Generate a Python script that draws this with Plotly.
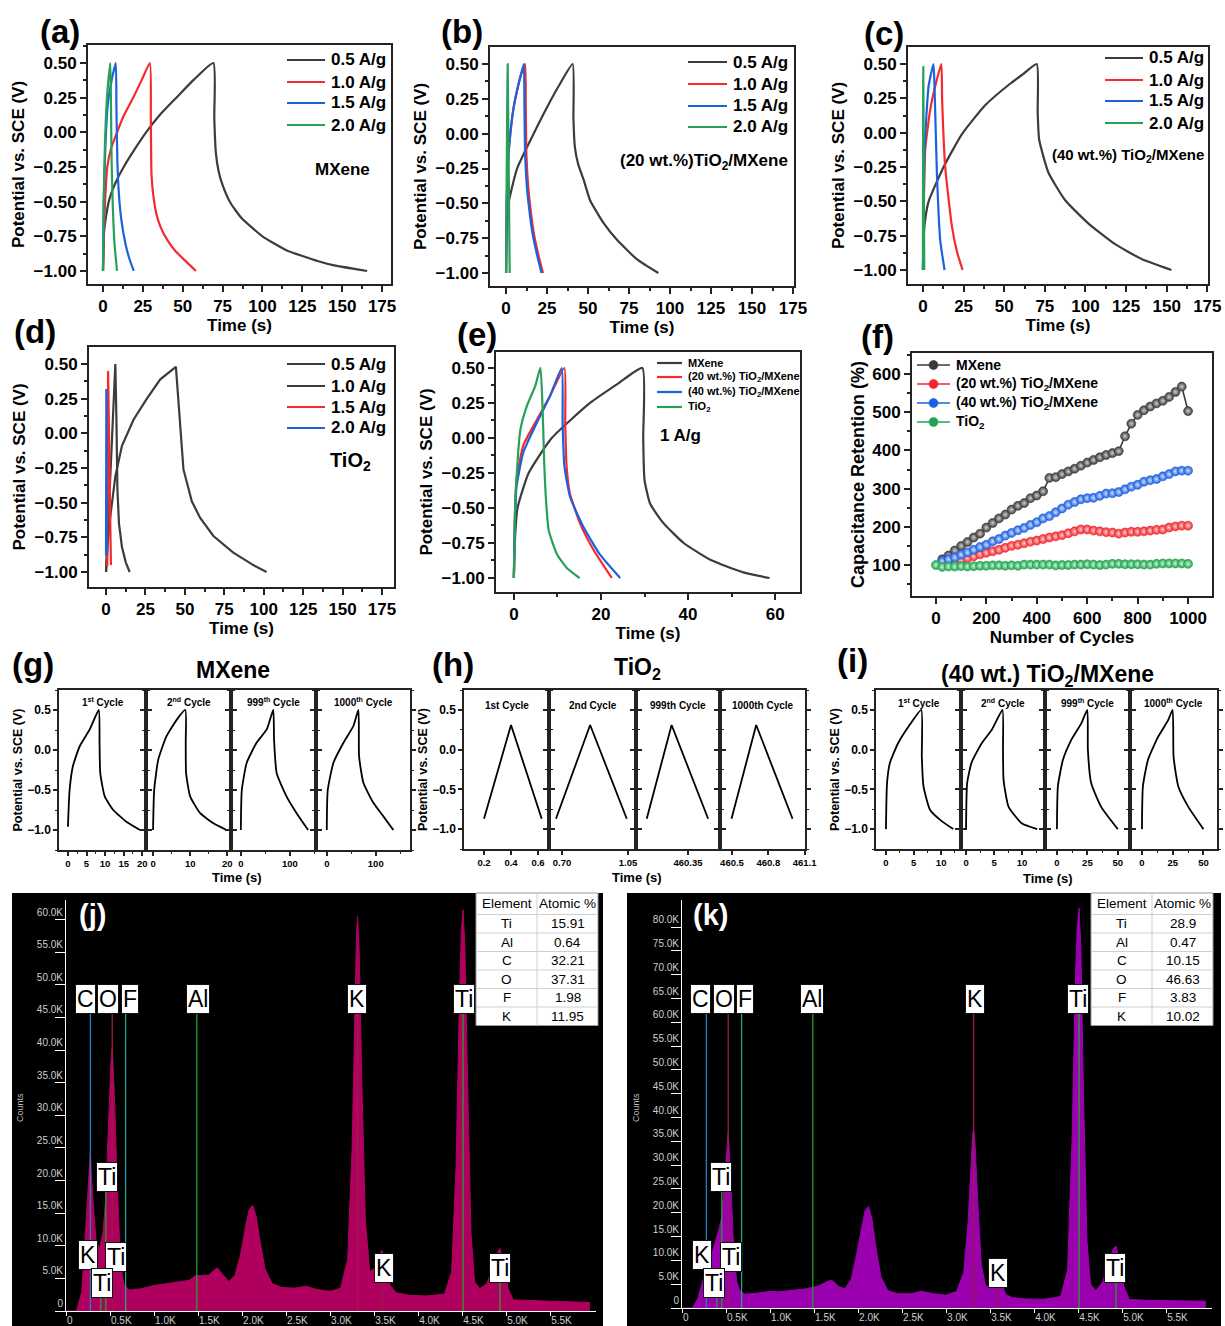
import plotly.graph_objects as go

W, H = 1225, 1326
FONT = "Liberation Sans"
INK = "#232323"
GRAY, RED, BLUE, GREEN = "#3c3c3c", "#f42a2d", "#1c62dc", "#26a157"

RATES = ["0.5 A/g", "1.0 A/g", "1.5 A/g", "2.0 A/g"]

# (a) MXene - GCD at four current densities, time (s) / potential (V vs SCE)
A_T = [
    [0, 0.8, 3.6, 8, 13, 20, 27, 36, 46, 57, 69.2, 69.8, 70.8, 72.5, 75, 80, 87, 100, 115, 135, 145, 165.6],
    [0, 0.5, 1.3, 2.7, 5, 8.8, 13, 18.9, 24, 29.4, 30.0, 30.4, 31.5, 33.5, 36, 40, 45, 51, 58.3],
    [0, 0.5, 1.5, 3, 5.5, 8.0, 8.4, 9.0, 10, 11.5, 14, 16.5, 19.3],
    [0, 0.4, 1.2, 2.5, 4.6, 5.0, 5.4, 6.2, 7.2, 8.8],
]
A_V = [
    [-1.0, -0.7, -0.5, -0.36, -0.25, -0.12, 0.0, 0.13, 0.25, 0.38, 0.5, 0.1, -0.15, -0.28, -0.38, -0.51, -0.62, -0.75, -0.85, -0.93, -0.96, -1.0],
    [-1.0, -0.75, -0.5, -0.25, -0.12, 0.0, 0.12, 0.25, 0.37, 0.5, 0.1, -0.3, -0.45, -0.59, -0.68, -0.77, -0.85, -0.92, -1.0],
    [-1.0, -0.5, -0.1, 0.2, 0.38, 0.5, 0.2, -0.2, -0.45, -0.63, -0.8, -0.91, -1.0],
    [-1.0, -0.5, -0.1, 0.25, 0.5, 0.2, -0.2, -0.55, -0.8, -1.0],
]

# (b) (20 wt.%) TiO2/MXene
B_T = [
    [0, 0.3, 1.5, 6.7, 16.8, 25, 33, 40.6, 41.1, 42, 44, 47.3, 51.3, 59.4, 67.5, 79.7, 92.9],
    [0, 0.4, 1.5, 2.6, 4.5, 6.7, 9, 11.6, 12.0, 12.4, 13.5, 15, 17, 19.5, 22.5],
    [0, 0.4, 1.5, 2.6, 4.5, 6.7, 9, 10.8, 11.2, 11.6, 12.7, 14.2, 16.2, 18.7, 21.6],
    [0, 1.0, 2.2],
]
B_V = [
    [-1.0, -0.7, -0.5, -0.25, 0.0, 0.19, 0.36, 0.5, 0.1, -0.1, -0.22, -0.33, -0.48, -0.64, -0.76, -0.9, -1.0],
    [-1.0, -0.5, -0.15, 0.0, 0.18, 0.31, 0.42, 0.5, 0.2, -0.15, -0.38, -0.55, -0.72, -0.86, -1.0],
    [-1.0, -0.5, -0.15, 0.0, 0.18, 0.31, 0.42, 0.5, 0.2, -0.15, -0.38, -0.55, -0.72, -0.86, -1.0],
    [-1.0, 0.5, -1.0],
]

# (c) (40 wt.%) TiO2/MXene
C_T = [
    [0, 0.3, 1.2, 3.5, 12.7, 24, 38.3, 54, 62, 70, 70.6, 71.5, 77.2, 87.4, 101.7, 118, 134.5, 152.9],
    [0, 0.6, 1.4, 4.5, 8, 11.3, 11.8, 13.7, 17.8, 21, 24.4],
    [0, 0.5, 1.0, 3.5, 6.5, 7.2, 8.6, 10.6, 13.3],
    [0, 0.2, 0.8],
]
C_V = [
    [-1.0, -0.8, -0.65, -0.5, -0.25, -0.01, 0.2, 0.36, 0.43, 0.5, 0.15, -0.05, -0.29, -0.49, -0.66, -0.81, -0.92, -1.0],
    [-1.0, -0.5, -0.12, 0.17, 0.36, 0.5, 0.24, -0.25, -0.68, -0.87, -1.0],
    [-1.0, -0.5, -0.12, 0.34, 0.5, 0.3, -0.3, -0.78, -1.0],
    [-1.0, 0.48, -1.0],
]

# (d) TiO2
D_T = [
    [0, 1, 2.7, 5.9, 10.1, 17.5, 25.9, 34.4, 44.3, 49.1, 54.4, 59.7, 68.1, 80.7, 93.4, 101.8],
    [0, 1.5, 2.7, 4.0, 5.9, 6.6, 7.2, 8.2, 10.1, 12.5, 15],
    [0.8, 1.3, 3.1],
    [0, 0.2, 0.5],
]
D_V = [
    [-1.0, -0.8, -0.6, -0.31, -0.09, 0.1, 0.25, 0.39, 0.48, -0.26, -0.49, -0.61, -0.74, -0.86, -0.95, -1.0],
    [-1.0, -0.6, -0.3, 0.1, 0.5, 0.1, -0.4, -0.65, -0.82, -0.93, -1.0],
    [-0.96, 0.45, -0.95],
    [-0.88, 0.32, -0.88],
]

# (e) all four electrodes at 1 A/g
E_NAMES = ["MXene", "(20 wt.%) TiO<sub>2</sub>/MXene", "(40 wt.%) TiO<sub>2</sub>/MXene", "TiO<sub>2</sub>"]
E_T = [
    [0, 0.2, 0.84, 3.4, 8.7, 17.5, 24, 29.5, 29.7, 30.0, 31.3, 34.4, 39, 45.1, 52.7, 58.7],
    [0, 0.2, 0.6, 2.2, 5.3, 8.3, 11.6, 11.8, 12.1, 12.9, 15.2, 18.3, 22.5],
    [0, 0.2, 0.6, 2.2, 5.3, 8.3, 11.0, 11.2, 11.6, 12.9, 15.9, 19.7, 24.4],
    [0, 0.2, 0.5, 1.5, 3, 4.9, 6.1, 6.6, 7.0, 7.4, 8, 9.9, 12.2, 15.1],
]
E_V = [
    [-1.0, -0.75, -0.5, -0.25, 0.0, 0.25, 0.39, 0.5, 0.0, -0.3, -0.47, -0.61, -0.75, -0.87, -0.96, -1.0],
    [-1.0, -0.6, -0.3, -0.05, 0.13, 0.3, 0.5, 0.1, -0.2, -0.4, -0.61, -0.8, -1.0],
    [-1.0, -0.65, -0.35, -0.1, 0.11, 0.3, 0.5, 0.1, -0.2, -0.42, -0.63, -0.83, -1.0],
    [-1.0, -0.6, -0.35, 0.06, 0.23, 0.37, 0.5, 0.2, -0.2, -0.45, -0.66, -0.83, -0.93, -1.0],
]

# (f) capacitance retention (%) vs cycle number
CYCLES = [0, 25, 50, 75, 100, 125, 150, 175, 200, 225, 250, 275, 300, 325, 350, 375, 400,
          425, 450, 475, 500, 525, 550, 575, 600, 625, 650, 675, 700, 725, 750, 775, 800,
          825, 850, 875, 900, 925, 950, 975, 1000]
RET_MXENE = [115, 125, 138, 150, 160, 172, 182, 198, 210, 222, 232, 245, 255, 262, 275, 282,
             293, 328, 330, 338, 345, 352, 360, 368, 375, 382, 388, 393, 398, 437, 470, 493,
             505, 515, 523, 530, 540, 553, 567, 503]
RET_20 = [100, 103, 108, 113, 118, 123, 128, 132, 136, 140, 145, 150, 153, 157, 161, 164,
          168, 172, 175, 178, 183, 188, 193, 193, 190, 188, 186, 185, 182, 185, 187, 187,
          188, 190, 192, 193, 198, 201, 203, 203]
RET_40 = [110, 115, 120, 127, 133, 140, 147, 153, 162, 168, 177, 184, 191, 197, 205, 212,
          222, 228, 238, 248, 258, 265, 272, 275, 276, 281, 287, 288, 291, 298, 305, 310,
          318, 322, 325, 332, 338, 345, 347, 347]
RET_TIO2 = [100, 95, 96, 96, 97, 96, 97, 98, 98, 99, 99, 98, 99, 98, 101, 101, 101, 101,
            101, 99, 100, 100, 101, 101, 102, 101, 100, 101, 103, 103, 102, 102, 102, 101,
            101, 103, 104, 104, 104, 104, 103]

# (g) MXene: 1st, 2nd, 999th, 1000th cycle
G_T = [
    [0, 0.45, 1.35, 3.2, 5.9, 8.3, 8.5, 8.7, 9.9, 12.2, 15.8, 19.4],
    [0, 0.3, 1.4, 3.6, 6.4, 8.7, 8.8, 8.9, 10, 12.7, 16.4, 19.8],
    [0, 2, 12, 32, 53, 66, 67.6, 73, 93, 113.5, 137],
    [0, 2, 13.6, 34, 54.4, 64.6, 66, 74.8, 95.2, 115.6, 136],
]
G_V = [
    [-0.96, -0.5, -0.2, 0.05, 0.26, 0.5, 0.1, -0.29, -0.58, -0.75, -0.9, -1.0],
    [-1.0, -0.5, -0.12, 0.17, 0.38, 0.5, 0.1, -0.29, -0.58, -0.79, -0.92, -1.0],
    [-1.0, -0.5, -0.16, 0.09, 0.26, 0.5, 0.13, -0.29, -0.58, -0.79, -1.0],
    [-1.0, -0.5, -0.16, 0.09, 0.3, 0.5, -0.08, -0.41, -0.66, -0.83, -1.0],
]
# (h) TiO2 cycles
H_T = [
    [0.20, 0.40, 0.627],
    [0.668, 0.849, 1.043],
    [460.131, 460.263, 460.457],
    [460.496, 460.70, 461.0],
]
H_V = [[-0.87, 0.31, -0.87]] * 4
# (i) (40 wt.) TiO2/MXene cycles
I_T = [
    [0, 0.2, 0.7, 2.2, 4.1, 6.4, 6.5, 6.8, 8, 10.1, 12.2],
    [0, 0.2, 1.0, 2.8, 4.6, 6.5, 6.6, 6.7, 7.6, 10, 12.7],
    [0, 0.8, 4.9, 11.7, 20, 24.9, 25.4, 28.1, 36.3, 50],
    [0, 0.8, 4.9, 13.1, 21.3, 24.9, 25.7, 29.5, 37.7, 50],
]
I_V = [
    [-1.0, -0.42, -0.17, 0.08, 0.29, 0.5, -0.09, -0.46, -0.76, -0.9, -1.0],
    [-1.0, -0.42, -0.16, 0.08, 0.25, 0.5, 0.0, -0.38, -0.72, -0.93, -1.0],
    [-1.0, -0.46, -0.13, 0.12, 0.33, 0.5, 0.0, -0.42, -0.72, -1.0],
    [-1.0, -0.46, -0.13, 0.16, 0.37, 0.5, -0.09, -0.46, -0.72, -1.0],
]
CYCLE_LABELS = ["1<sup>st</sup> Cycle", "2<sup>nd</sup> Cycle", "999<sup>th</sup> Cycle", "1000<sup>th</sup> Cycle"]
CYCLE_LABELS_PLAIN = ["1st Cycle", "2nd Cycle", "999th Cycle", "1000th Cycle"]

# (j)/(k) EDS spectra: energy (keV) / counts (thousands)
EDS_E = [0.0, 0.12, 0.18, 0.22, 0.25, 0.277, 0.30, 0.34, 0.38, 0.42, 0.45, 0.48, 0.51, 0.525,
         0.55, 0.58, 0.62, 0.66, 0.72, 0.85, 1.0, 1.1, 1.2, 1.3, 1.4, 1.47, 1.55, 1.62, 1.68,
         1.72, 1.78, 1.85, 1.92, 1.98, 2.04, 2.08, 2.12, 2.16, 2.2, 2.26, 2.34, 2.45, 2.6, 2.72,
         2.85, 3.0, 3.12, 3.2, 3.25, 3.28, 3.30, 3.312, 3.33, 3.36, 3.40, 3.45, 3.50, 3.55, 3.59,
         3.63, 3.68, 3.75, 3.9, 4.1, 4.3, 4.38, 4.43, 4.47, 4.49, 4.51, 4.53, 4.56, 4.60, 4.64,
         4.70, 4.78, 4.85, 4.90, 4.93, 4.97, 5.02, 5.08, 5.3, 5.6, 5.95]
J_COUNTS = [0, 0, 3, 12, 20, 24.5, 18, 11, 9.5, 12, 17, 28, 38, 40.5, 33, 20, 7, 4, 3.2, 3.4,
            3.9, 4.1, 4.3, 4.4, 4.7, 5.4, 5.4, 5.5, 6.2, 6.6, 5.6, 4.5, 5.5, 8.5, 13, 15.5, 16.2,
            14.5, 11, 6.5, 4.2, 3.6, 3.5, 3.8, 3.3, 3.0, 3.5, 8, 25, 48, 58, 60.5, 55, 35, 14, 6,
            6.5, 8.5, 9.3, 7.5, 4, 2.8, 2.4, 2.3, 2.6, 6, 22, 48, 58, 61.5, 56, 36, 12, 4.5, 3.4,
            4.2, 6.8, 9, 9.6, 7.5, 3.5, 1.7, 1.6, 1.5, 1.3]
K_COUNTS = [0, 0, 2, 4.8, 7, 8.5, 9.5, 11.5, 14, 16.5, 19, 26, 34, 36.8, 28, 15, 5.5, 3.5, 2.9,
            3.1, 3.5, 3.4, 3.6, 3.8, 4.0, 4.3, 4.6, 5.3, 5.8, 5.6, 4.5, 4.0, 6, 11, 17, 20.5,
            21.3, 18.5, 13, 6.5, 3.6, 3.0, 3.0, 3.5, 3.0, 2.7, 3.5, 7.5, 18, 30, 36, 37.8, 34,
            22, 9, 4.5, 4.8, 5.8, 6.2, 5, 2.8, 2.2, 1.9, 1.8, 2.4, 8, 35, 70, 80, 84, 76, 45, 14,
            5, 3.6, 5.5, 10, 12.5, 13, 10, 4.5, 1.8, 1.6, 1.5, 1.4]
E_TICKS = [0, 0.5, 1.0, 1.5, 2.0, 2.5, 3.0, 3.5, 4.0, 4.5, 5.0, 5.5]
J_YTICKS = [0, 5, 10, 15, 20, 25, 30, 35, 40, 45, 50, 55, 60]
K_YTICKS = [0, 5, 10, 15, 20, 25, 30, 35, 40, 45, 50, 55, 60, 65, 70, 75, 80]

# element marker lines: energy (keV), colour key, top (thousand counts)
LINE_E = [0.277, 0.525, 0.677, 1.486, 3.312, 4.51, 0.452, 0.395, 3.59, 4.93]
LINE_KIND = ["C", "O", "F", "Al", "K", "Ti", "Ti", "Ti", "K", "Ti"]
J_LINE_TOP = [45.8, 45.8, 45.8, 45.8, 45.8, 45.8, 18.7, 2.7, 5.0, 5.0]
K_LINE_TOP = [62.2, 62.2, 62.2, 62.2, 62.2, 62.2, 24.8, 2.9, 4.6, 5.7]
LINE_COLORS = {"C": "#2a7bbd", "O": "#9b1c45", "F": "#2a9d8f", "Al": "#22a02f", "K": "#9b1c45", "Ti": "#22a02f"}

LABEL_TEXT = ["C", "O", "F", "Al", "K", "Ti", "Ti", "K", "Ti", "Ti", "K", "Ti"]
J_LABEL_E = [0.22, 0.48, 0.73, 1.50, 3.31, 4.52, 0.47, 0.25, 0.57, 0.41, 3.61, 4.93]
J_LABEL_C = [47.9, 47.9, 47.9, 47.9, 47.9, 47.9, 20.5, 8.6, 8.3, 4.3, 6.6, 6.6]
K_LABEL_E = [0.21, 0.48, 0.72, 1.48, 3.33, 4.50, 0.44, 0.23, 0.56, 0.36, 3.59, 4.92]
K_LABEL_C = [64.9, 64.9, 64.9, 64.9, 64.9, 64.9, 27.5, 11.1, 10.7, 5.3, 7.4, 8.4]

ELEMENTS = ["Ti", "Al", "C", "O", "F", "K"]
J_ATOMIC = ["15.91", "0.64", "32.21", "37.31", "1.98", "11.95"]
K_ATOMIC = ["28.9", "0.47", "10.15", "46.63", "3.83", "10.02"]


fig = go.Figure()
lay = dict(width=W, height=H, autosize=False,
           margin=dict(l=0, r=0, t=0, b=0, pad=0, autoexpand=False),
           paper_bgcolor="white", plot_bgcolor="rgba(0,0,0,0)",
           font=dict(family=FONT, color="black"), showlegend=False)
anns, shapes = [], []


def X(p):
    return p / W


def Y(p):
    return 1 - p / H


def xid(n):
    return "x" if n == 1 else f"x{n}"


def yid(n):
    return "y" if n == 1 else f"y{n}"


def bold(size, color="black"):
    return dict(family=FONT, size=size, color=color, weight="bold")


def ttl(text, size, standoff):
    return dict(text=text, font=bold(size), standoff=standoff)


def style(size, lw=2.0, ticklen=6, minor=None, **kw):
    ax = dict(showline=True, linecolor=INK, linewidth=lw, mirror=True, ticks="outside",
              ticklen=ticklen, tickwidth=lw, tickcolor=INK, showgrid=False, zeroline=False,
              tickfont=bold(size))
    if minor:
        ax["minor"] = dict(dtick=minor, ticks="outside", ticklen=ticklen / 2,
                           tickwidth=lw * 0.75, tickcolor=INK, showgrid=False)
    ax.update(kw)
    return ax


def axes(n, xpx, ypx, xkw, ykw):
    lay["xaxis" if n == 1 else f"xaxis{n}"] = dict(domain=[X(xpx[0]), X(xpx[1])], anchor=yid(n),
                                                   automargin=False, **xkw)
    lay["yaxis" if n == 1 else f"yaxis{n}"] = dict(domain=[Y(ypx[1]), Y(ypx[0])], anchor=xid(n),
                                                   automargin=False, **ykw)


def note(x, y, text, size, color="black", weight="bold", **kw):
    a = dict(x=X(x), y=Y(y), xref="paper", yref="paper", text=text, showarrow=False,
             xanchor="center", yanchor="middle",
             font=dict(family=FONT, size=size, color=color, weight=weight))
    a.update(kw)
    anns.append(a)


def key_rows(x0, x1, ys, names, colors, size, lw=2.2, dot=None):
    # hand-drawn legend: short line sample (+ optional dot) and bold label
    for y, name, c in zip(ys, names, colors):
        shapes.append(dict(type="line", xref="paper", yref="paper", x0=X(x0), x1=X(x1),
                           y0=Y(y), y1=Y(y), line=dict(color=c, width=lw)))
        if dot:
            xm = (x0 + x1) / 2
            shapes.append(dict(type="circle", xref="paper", yref="paper",
                               x0=X(xm - dot), x1=X(xm + dot), y0=Y(y + dot), y1=Y(y - dot),
                               fillcolor=c, line=dict(color=c, width=0.6)))
        note(x1 + 4, y, name, size, xanchor="left")


def gcd_panel(n, xpx, ypx, xr, yr, ts, vs, colors, xdtick=25, xminor=12.5, shape="spline"):
    axes(n, xpx, ypx,
         style(17, minor=xminor, range=xr, dtick=xdtick, tick0=0, title=ttl("Time (s)", 17, 4)),
         style(17, minor=0.125, range=yr, dtick=0.25, tick0=0, tickformat=".2f",
               title=ttl("Potential vs. SCE (V)", 17, 5)))
    for t, v, c in zip(ts, vs, colors):
        fig.add_trace(go.Scatter(x=t, y=v, mode="lines",
                                 line=dict(color=c, width=2.2, shape=shape, smoothing=0.5),
                                 xaxis=xid(n), yaxis=yid(n), hoverinfo="skip"))


COLORS4 = [GRAY, RED, BLUE, GREEN]
gcd_panel(1, (88, 391), (45, 284), [-9.4, 180.6], [-1.094, 0.63], A_T, A_V, COLORS4)
gcd_panel(2, (490, 794), (47, 286), [-9.8, 175.6], [-1.093, 0.622], B_T, B_V, COLORS4)
gcd_panel(3, (908, 1208), (47, 284), [-9.2, 175.4], [-1.102, 0.624], C_T, C_V, COLORS4)
gcd_panel(4, (89, 394), (347, 587), [-10.8, 182.6], [-1.108, 0.623], D_T, D_V,
          [GRAY, GRAY, RED, BLUE], shape="linear")
gcd_panel(5, (496, 800), (352, 592), [-4.1, 65.7], [-1.1, 0.614], E_T, E_V, COLORS4,
          xdtick=20, xminor=10)

key_rows(287, 325, [60, 82, 103, 125], RATES, COLORS4, 17)
key_rows(688, 727, [62, 84, 106, 127], RATES, COLORS4, 17)
key_rows(1105, 1143, [58, 80, 101, 123], RATES, COLORS4, 17)
key_rows(287, 325, [364, 386, 407, 428], RATES, [GRAY, GRAY, RED, BLUE], 17)
key_rows(657, 682, [363, 377, 392, 407], E_NAMES, COLORS4, 11)

# (f) retention
axes(6, (912, 1212), (353, 596),
     style(17, minor=100, range=[-95, 1095], dtick=200, tick0=0, title=ttl("Number of Cycles", 17, 4)),
     style(17, minor=50, range=[18.8, 655], dtick=100, tick0=0,
           title=ttl("Capacitance Retention (%)", 18, 3)))
RET_STYLE = [(RET_MXENE, "#3a3a3a", "#cfcfcf"), (RET_20, "#f0282d", "#ffd0d0"),
             (RET_40, "#1c5fe0", "#cfe0ff"), (RET_TIO2, "#21a34f", "#c9f5d9")]
for ys, c, glow in RET_STYLE:
    xs = CYCLES if len(ys) == len(CYCLES) else CYCLES[1:]
    fig.add_trace(go.Scatter(x=xs, y=ys, mode="lines+markers", line=dict(color=c, width=1.6),
                             marker=dict(size=9, color=c, line=dict(width=0.6, color=c),
                                         gradient=dict(type="radial", color=glow)),
                             xaxis="x6", yaxis="y6", hoverinfo="skip"))
key_rows(917, 950, [365, 384, 403, 422], E_NAMES, [s[1] for s in RET_STYLE], 14, lw=1.6, dot=4.5)


# (g)/(h)/(i) cycle strips
def cycle_group(first, xs_px, ypx, xranges, xticks, xfmts, xminors, ts, vs, labels, label_y,
                shape="spline"):
    for i in range(4):
        n = first + i
        xkw = style(9.5, lw=1.5, ticklen=4, minor=xminors[i], range=xranges[i],
                    tickvals=xticks[i], tickformat=xfmts[i])
        ykw = style(12, lw=1.5, ticklen=4, minor=0.25, range=[-1.25, 0.75], dtick=0.5, tick0=0,
                    tickformat=".1f", mirror="ticks", showticklabels=(i == 0))
        if i == 0:
            ykw["title"] = ttl("Potential vs. SCE (V)", 12.5, 2)
        axes(n, (xs_px[i], xs_px[i + 1]), ypx, xkw, ykw)
        fig.add_trace(go.Scatter(x=ts[i], y=vs[i], mode="lines",
                                 line=dict(color="black", width=1.8, shape=shape, smoothing=0.5),
                                 xaxis=xid(n), yaxis=yid(n), hoverinfo="skip"))
        note((xs_px[i] + xs_px[i + 1]) / 2, label_y, labels[i], 10)


cycle_group(7, [59, 146, 231, 316, 410], (690, 850),
            [[-2.4, 21], [-1.9, 21], [-20, 153], [-22, 170]],
            [[0, 5, 10, 15, 20], [0, 10, 20], [0, 100], [0, 100]],
            ["d", "d", "d", "d"], [2.5, 5, 50, 50], G_T, G_V, CYCLE_LABELS, 702)
cycle_group(11, [464, 549, 636, 720, 805], (690, 849),
            [[0.052, 0.681], [0.631, 1.092], [460.074, 460.52], [460.401, 461.103]],
            [[0.2, 0.4, 0.6], [0.70, 1.05], [460.35], [460.5, 460.8, 461.1]],
            [".1f", ".2f", ".2f", ".1f"], [None, None, None, None], H_T, H_V,
            CYCLE_LABELS_PLAIN, 705, shape="linear")
cycle_group(15, [876, 961, 1045, 1130, 1217], (690, 849),
            [[-1.8, 13.6], [-0.9, 14.1], [-9.8, 60], [-9.7, 61]],
            [[0, 5, 10], [0, 5, 10], [0, 25, 50], [0, 25, 50]],
            ["d", "d", "d", "d"], [2.5, 2.5, 12.5, 12.5], I_T, I_V, CYCLE_LABELS, 703)

note(237, 877, "Time (s)", 13)
note(637, 877, "Time (s)", 13)
note(1048, 878, "Time (s)", 13)
note(233, 670, "MXene", 23)
note(637, 668, "TiO<sub>2</sub>", 23)
note(1047, 675, "(40 wt.) TiO<sub>2</sub>/MXene", 23)


# (j)/(k) EDS spectra on black
def eds_table(x0, xm, x1, atomic):
    rows = [893, 914.5, 933, 951.5, 970, 988.5, 1007, 1025.5]
    shapes.append(dict(type="rect", xref="paper", yref="paper", x0=X(x0), x1=X(x1),
                       y0=Y(rows[-1]), y1=Y(rows[0]), fillcolor="white",
                       line=dict(color="#9a9a9a", width=1)))
    for r in rows[1:-1]:
        shapes.append(dict(type="line", xref="paper", yref="paper", x0=X(x0), x1=X(x1),
                           y0=Y(r), y1=Y(r), line=dict(color="#cfcfcf", width=1)))
    shapes.append(dict(type="line", xref="paper", yref="paper", x0=X(xm), x1=X(xm),
                       y0=Y(rows[-1]), y1=Y(rows[0]), line=dict(color="#cfcfcf", width=1)))
    cells = [("Element", "Atomic %")] + list(zip(ELEMENTS, atomic))
    for k, (a, b) in enumerate(cells):
        yc = (rows[k] + rows[k + 1]) / 2
        note((x0 + xm) / 2, yc, a, 13.5, weight="normal")
        note((xm + x1) / 2, yc, b, 13.5, weight="normal")


def eds_panel(n, bg, xpx, ypx, yr, yticks, counts, color, tops, lab_e, lab_c, atomic, table_x):
    shapes.append(dict(type="rect", xref="paper", yref="paper", x0=X(bg[0]), x1=X(bg[1]),
                       y0=0, y1=Y(893), fillcolor="black", line_width=0, layer="below"))
    light = dict(family=FONT, size=10, color="#cfcfcf")
    axes(n, xpx, ypx,
         dict(range=[0, 6.02], tickvals=E_TICKS,
              ticktext=[f"{v:.1f}K" if v else "0" for v in E_TICKS], ticks="outside", ticklen=4,
              tickcolor="white", showline=True, linecolor="white", linewidth=1, tickfont=light,
              ticklabelposition="outside right", showgrid=False, zeroline=False),
         dict(range=yr, tickvals=yticks, ticktext=[f"{v:.1f}K" if v else "0" for v in yticks],
              ticks="outside", ticklen=10, tickcolor="white", showline=True, linecolor="white",
              linewidth=1, tickfont=light, ticklabelposition="outside top", showgrid=False,
              zeroline=False))
    fig.add_trace(go.Scatter(x=EDS_E, y=counts, mode="lines", fill="tozeroy", fillcolor=color,
                             line=dict(color=color, width=1), xaxis=xid(n), yaxis=yid(n),
                             hoverinfo="skip"))
    for e, kind, top in zip(LINE_E, LINE_KIND, tops):
        fig.add_trace(go.Scatter(x=[e, e], y=[0, top], mode="lines",
                                 line=dict(color=LINE_COLORS[kind], width=1.3),
                                 xaxis=xid(n), yaxis=yid(n), hoverinfo="skip"))
    for txt, e, c in zip(LABEL_TEXT, lab_e, lab_c):
        anns.append(dict(x=e, y=c, xref=xid(n), yref=yid(n), text=txt, showarrow=False,
                         font=dict(family=FONT, size=23, color="black"), bgcolor="white",
                         bordercolor="#111", borderwidth=1, borderpad=1))
    eds_table(*table_x, atomic)


eds_panel(19, (12, 603), (66, 596), (900, 1311), [0, 63], J_YTICKS, J_COUNTS, "#b0005f",
          J_LINE_TOP, J_LABEL_E, J_LABEL_C, J_ATOMIC, (476, 537, 598))
eds_panel(20, (627, 1221), (682, 1212), (900, 1308), [0, 85.7], K_YTICKS, K_COUNTS, "#9b00af",
          K_LINE_TOP, K_LABEL_E, K_LABEL_C, K_ATOMIC, (1091, 1152, 1213))
note(20, 1108, "Counts", 9, color="#bdbdbd", weight="normal", textangle=-90)
note(636, 1108, "Counts", 9, color="#bdbdbd", weight="normal", textangle=-90)

# in-panel notes and panel letters
note(342, 170, "MXene", 17)
note(704, 162, "(20 wt.%)TiO<sub>2</sub>/MXene", 17)
note(1128, 155, "(40 wt.%) TiO<sub>2</sub>/MXene", 15)
note(350, 461, "TiO<sub>2</sub>", 20)
note(680, 436, "1 A/g", 17)
for txt, x, y in [("(a)", 60, 31), ("(b)", 462, 31), ("(c)", 884, 33), ("(d)", 35, 331),
                  ("(e)", 477, 334), ("(f)", 877, 336), ("(g)", 33, 664), ("(h)", 453, 664),
                  ("(i)", 852, 660)]:
    note(x, y, txt, 33)
note(92, 915, "(j)", 29, color="white")
note(710, 915, "(k)", 29, color="white")

lay["annotations"] = anns
lay["shapes"] = shapes
fig.update_layout(**lay)
# drop the browser's default body margin so the figure sits at the page origin
fig.write_html("out.html", config={"displayModeBar": False},
               post_script="document.body.style.margin='0';document.body.style.overflow='hidden';")
